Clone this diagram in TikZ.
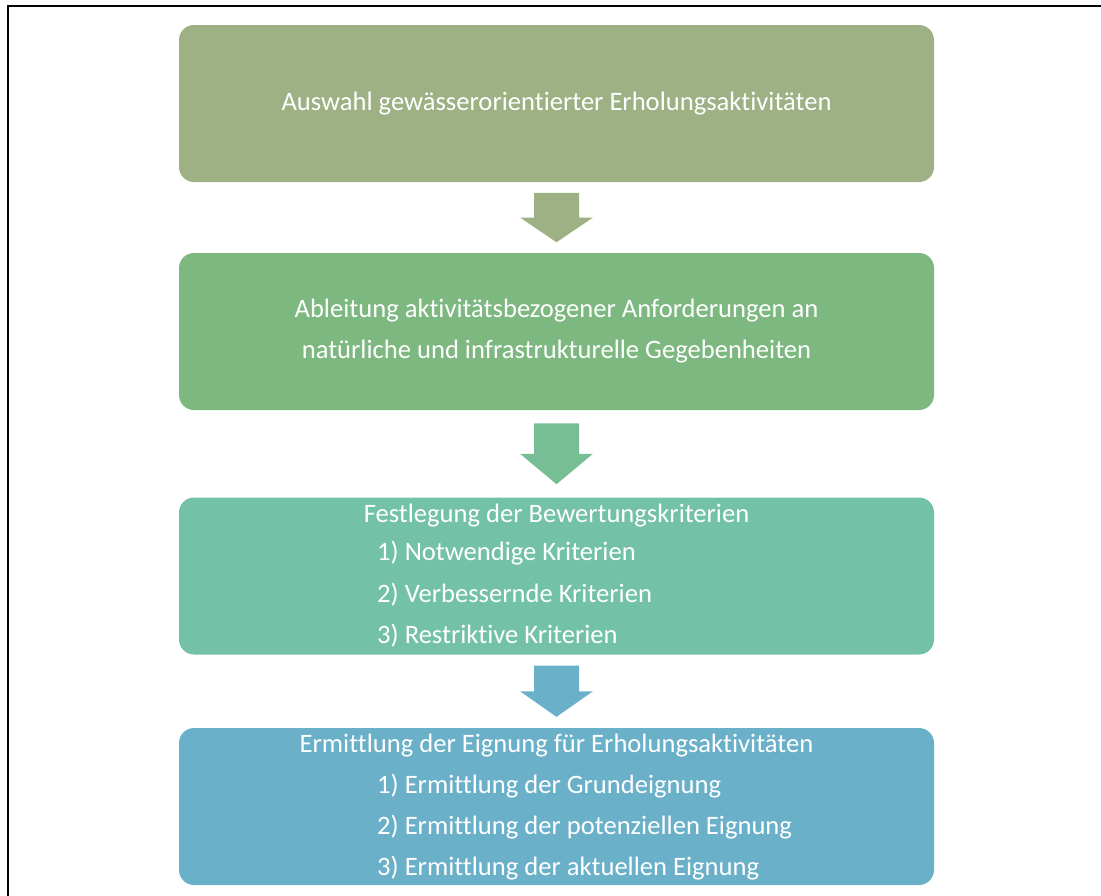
\documentclass[tikz,border=0pt]{standalone}
\usepackage{fontspec}
\setmainfont{Carlito}[Ligatures=NoCommon]
\usetikzlibrary{calc}

\definecolor{olivegreen}{HTML}{9DB184}
\definecolor{leafgreen}{HTML}{7CB87F}
\definecolor{mintgreen}{HTML}{73C2A7}
\definecolor{skyblue}{HTML}{6AB0C9}
\definecolor{arrowgreen}{HTML}{77BE94}

\begin{document}
\begin{tikzpicture}[x=1pt,y=-1pt,
        stage/.style={rectangle,rounded corners=15pt,minimum width=755pt,
            minimum height=157pt,inner sep=0pt,text=white,align=center,
            font=\fontsize{26.6}{41}\selectfont},
        steptext/.style={text=white,inner sep=0pt,font=\fontsize{26.6}{41}\selectfont},
        frameline/.style={draw=black,line width=2pt}]
    \useasboundingbox (0,0) rectangle (1101,895);
    \clip (0,0) rectangle (1101,895);
    \draw[frameline] (8,910) |- (1120,6);

    \node[stage,fill=olivegreen] (auswahl) at (556.5,103.5)
        {Auswahl gewässerorientierter Erholungsaktivitäten};
    \node[stage,fill=leafgreen] (ableitung) at (556.5,331.5)
        {Ableitung aktivitätsbezogener Anforderungen an\\natürliche und infrastrukturelle Gegebenheiten};
    \node[stage,fill=mintgreen] (kriterien) at (556.5,576) {};
    \node[stage,fill=skyblue] (eignung) at (556.5,806.5) {};

    % Festlegung
    \node[steptext] (ktitle) at (556.5,516) {Festlegung der Bewertungskriterien};
    \foreach \txt [count=\i] in {1) Notwendige Kriterien,2) Verbessernde Kriterien,3) Restriktive Kriterien}
        \node[steptext,anchor=west] (k\i) at (377,511.5+41.5*\i) {\txt};

    % Ermittlung
    \node[steptext] (etitle) at (556.5,746) {Ermittlung der Eignung für Erholungsaktivitäten};
    \foreach \txt [count=\i] in {1) Ermittlung der Grundeignung,2) Ermittlung der potenziellen Eignung,3) Ermittlung der aktuellen Eignung}
        \node[steptext,anchor=west] (e\i) at (377,745+41*\i) {\txt};

    % block arrows between the stages
    \foreach \from/\to/\col in {auswahl/ableitung/olivegreen,ableitung/kriterien/arrowgreen,kriterien/eignung/skyblue} {
        \path (\from.south) -- (\to.north)
            coordinate[pos=0.15] (s) coordinate[pos=0.5] (m) coordinate[pos=0.85] (e);
        \fill[\col] ($(s)+(-22.5,0)$) -- ($(s)+(22.5,0)$) -- ($(m)+(22.5,0)$)
            -- ($(m)+(36.5,0)$) -- (e) -- ($(m)+(-36.5,0)$) -- ($(m)+(-22.5,0)$) -- cycle;
    }
\end{tikzpicture}
\end{document}
